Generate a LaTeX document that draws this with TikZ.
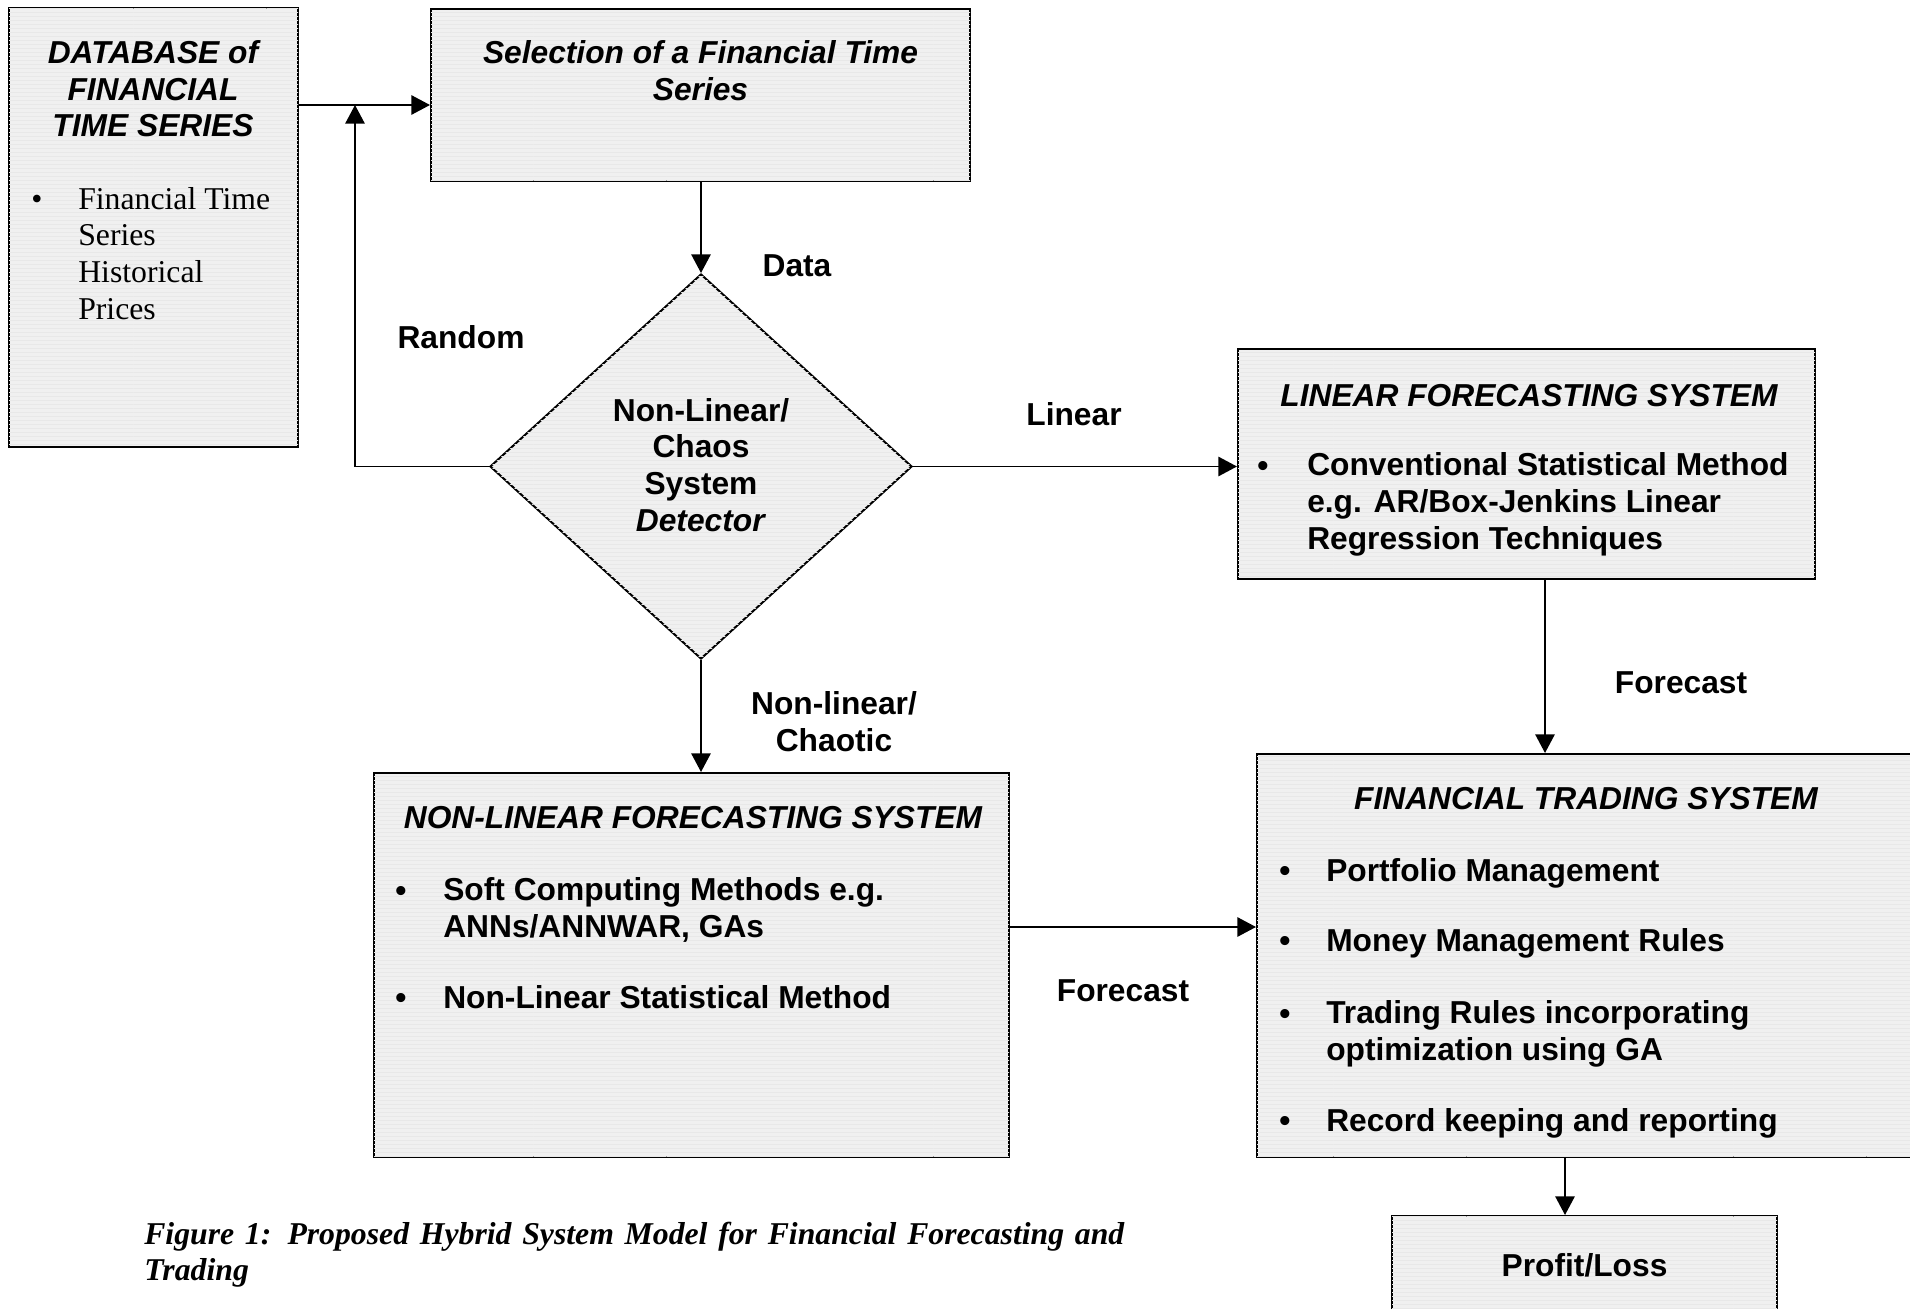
\documentclass[tikz,border=0pt]{standalone}
\usepackage{fontspec}
\setmainfont{Liberation Sans}
\newfontfamily\timesfont{Liberation Serif}
\usepackage{tikz}
\usetikzlibrary{shapes.geometric, arrows.meta, patterns}
\usetikzlibrary{calc}
\usetikzlibrary{positioning}
\definecolor{boxgray}{RGB}{240,240,240}
\newcommand{\txtsize}{\fontsize{23.8pt}{27.4pt}\selectfont}
\begin{document}
\begin{tikzpicture}[x=0.75pt,y=0.75pt,yscale=-1,xscale=1]
  \tikzstyle{arrow} = [line width=1.4pt,-{Triangle[length=14pt,width=14.5pt]}]
  \tikzstyle{box} = [draw,line width=1.5pt,fill=boxgray,postaction={pattern=horizontal lines,pattern color=black!9},inner sep=0pt]
  \tikzstyle{lbl} = [font=\txtsize\bfseries,inner sep=0pt]
  \tikzstyle{hdr} = [font=\txtsize\bfseries\itshape,inner sep=0pt]
  \clip (0,0) rectangle (1910,1309);
  %Draw the boxes
  \node [box,minimum width=216.75pt,minimum height=329.25pt] (db) at (153.5,227.5) {};
  \node [box,minimum width=404.25pt,minimum height=129pt] (sel) at (700.5,95) {};
  \node [box,diamond,minimum width=316.5pt,minimum height=288.75pt] (det) at (701,466.5) {};
  \node [box,minimum width=432.75pt,minimum height=172.5pt] (lin) at (1526.5,464) {};
  \node [box,minimum width=476.25pt,minimum height=288pt] (nl) at (691.5,965) {};
  \node [box,minimum width=501pt,minimum height=302.25pt] (fts) at (1591,955.5) {};
  \node [box,lbl,minimum width=288.75pt,minimum height=76.5pt] (pl) at (1584.5,1267) {\raisebox{3.7pt}{Profit/Loss}};
  %Junction points of the connectors
  \coordinate (jn) at (355,105);
  \coordinate (lf) at (1545,600);
  \coordinate (nf) at (1100,927);
  \coordinate (pf) at (1565,1190);
  %Draw the connectors
  \draw [arrow] (db.east |- jn) -- (sel.west |- jn);
  \draw [arrow] (det.west) -| (jn);
  \draw [arrow] (sel.south -| det.north) -- (det.north);
  \draw [arrow] (det.east) -- (lin.west |- det.east);
  \draw [arrow] (det.south) -- (nl.north -| det.south);
  \draw [arrow] (lin.south -| lf) -- (fts.north -| lf);
  \draw [arrow] (nl.east |- nf) -- (fts.west |- nf);
  \draw [arrow] (fts.south -| pf) -- (pl.north -| pf);

  % Texts of the boxes (base = last line)
  \node [hdr,align=center,anchor=base] (dbhead) at (153,137) {DATABASE of\\FINANCIAL\\TIME SERIES};
  \node [font=\txtsize\timesfont,inner sep=0pt,anchor=base] (dbdot) at (37,209.5) {•};
  \node [font=\txtsize\timesfont,inner sep=0pt,align=left,anchor=base west] (dbitem) at (78,319) {Financial Time\\Series\\Historical\\Prices};
  \node [hdr,align=center,anchor=base] (selhead) at (700.5,100.5) {Selection of a Financial Time\\Series};
  \node [lbl,align=center,anchor=base] (dethead) at (701,531) {Non-Linear/\\Chaos\\System\\\textit{Detector}};
  \node [hdr,anchor=base] (linhead) at (1529,406) {LINEAR FORECASTING SYSTEM};
  \node [lbl,anchor=base] (lindot) at (1263,476) {•};
  \node [lbl,align=left,anchor=base west] (linitem) at (1307,549) {Conventional Statistical Method\\e.g. AR/Box-Jenkins Linear\\Regression Techniques};
  \node [hdr,anchor=base] (nlhead) at (693,828) {NON-LINEAR FORECASTING SYSTEM};
  \node [lbl,anchor=base] (nldota) at (401,901) {•};
  \node [lbl,align=left,anchor=base west] (nlitema) at (443,937.5) {Soft Computing Methods e.g.\\ANNs/ANNWAR, GAs};
  \node [lbl,anchor=base] (nldotb) at (401,1008) {•};
  \node [lbl,anchor=base west] (nlitemb) at (443,1008) {Non-Linear Statistical Method};
  \node [hdr,anchor=base] (ftshead) at (1586,809) {FINANCIAL TRADING SYSTEM};
  \node [lbl,anchor=base] (ftsdota) at (1285,881) {•};
  \node [lbl,anchor=base west] (ftsitema) at (1326,881) {Portfolio Management};
  \node [lbl,anchor=base] (ftsdotb) at (1285,951) {•};
  \node [lbl,anchor=base west] (ftsitemb) at (1326,951) {Money Management Rules};
  \node [lbl,anchor=base] (ftsdotc) at (1285,1024) {•};
  \node [lbl,align=left,anchor=base west] (ftsitemc) at (1326,1060.5) {Trading Rules incorporating\\optimization using GA};
  \node [lbl,anchor=base] (ftsdotd) at (1285,1131) {•};
  \node [lbl,anchor=base west] (ftsitemd) at (1326,1131) {Record keeping and reporting};

  % Label the connectors
  \node [lbl,anchor=base] (lbldata) at (797,276) {Data};
  \node [lbl,anchor=base] (lblrandom) at (461,348) {Random};
  \node [lbl,anchor=base] (lbllinear) at (1074,425) {Linear};
  \node [lbl,anchor=base] (lblfclin) at (1681,693) {Forecast};
  \node [lbl,align=center,anchor=base] (lblchaotic) at (834,751.5) {Non-linear/\\Chaotic};
  \node [lbl,anchor=base] (lblfcnl) at (1123,1001) {Forecast};

  % Caption (base = first line here)
  \node [font=\txtsize\timesfont\bfseries\itshape,inner sep=0pt,text width=735pt,align=justify,anchor=base west] (caption) at (144,1244) {Figure 1: Proposed Hybrid System Model for Financial Forecasting and Trading};
\end{tikzpicture}
\end{document}
